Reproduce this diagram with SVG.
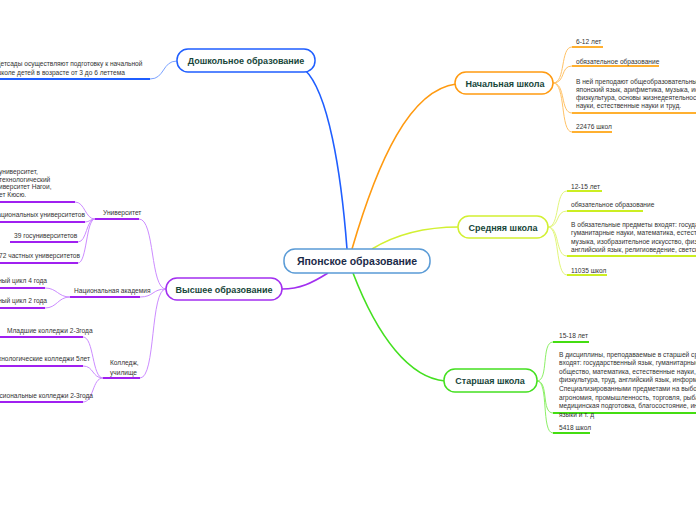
<svg xmlns="http://www.w3.org/2000/svg" width="696" height="520" viewBox="0 0 696 520">
<style>
.bg{fill:#ffffff}
.node{fill:#ffffff;stroke-width:1.5}
.ttl{font-family:"Liberation Sans",Arial,sans-serif;font-weight:bold;font-size:9px;fill:#17463a;text-anchor:middle}
.ctr{font-family:"Liberation Sans",Arial,sans-serif;font-weight:bold;font-size:10.5px;fill:#1b2a48;text-anchor:middle}
.lf{font-family:"Liberation Sans",Arial,sans-serif;font-size:6.6px;fill:#333333}
.end{text-anchor:end}
.c{fill:none}
.ul{fill:none;stroke-width:2}
.blue{stroke:#1f5eff}
.blueL{stroke:#7aa2ff;stroke-width:1}
.or{stroke:#ff9a10}
.orL{stroke:#ffc266;stroke-width:1}
.orU{stroke:#ffb030}
.yg{stroke:#d2f032}
.ygL{stroke:#e2f67a;stroke-width:1}
.ygU{stroke:#ccee22}
.gr{stroke:#44e020}
.grL{stroke:#8cf066;stroke-width:1}
.grU{stroke:#44dd11}
.pu{stroke:#a22ff0}
.puL{stroke:#cc8cff;stroke-width:1}
.puU{stroke:#a020f0}
</style>
<rect class="bg" x="0" y="0" width="696" height="520"/>
<g id="connectors">
  <!-- main branches -->
  <path class="c blue" stroke-width="1.6" d="M347,249 C341,170 328,92 305,70"/>
  <path class="c or" stroke-width="1.6" d="M352,249 C378,160 410,90 456,84"/>
  <path class="c yg" stroke-width="1.6" d="M372,249 C398,233 430,227 459,227"/>
  <path class="c gr" stroke-width="1.6" d="M353,273 C378,338 410,378 445,381"/>
  <path class="c pu" stroke-width="1.6" d="M328,273 C312,283 300,289 282,289"/>
  <!-- preschool -->
  <path class="c blueL" d="M177,61 C162,61 165,79 150,79"/>
  <path class="ul blue" d="M0,79 H150"/>
  <!-- primary -->
  <path class="c orL" d="M553,83 C566,83 560,47 572,47"/>
  <path class="c orL" d="M553,83 C566,83 560,66 572,66"/>
  <path class="c orL" d="M553,83 C566,83 560,113 572,113"/>
  <path class="c orL" d="M553,83 C566,83 560,132 572,132"/>
  <path class="ul orU" d="M572,47 H603"/>
  <path class="ul orU" d="M572,66 H659"/>
  <path class="ul orU" d="M572,113 H696"/>
  <path class="ul orU" d="M572,132 H612"/>
  <!-- middle -->
  <path class="c ygL" d="M548,227 C560,227 555,191 567,191"/>
  <path class="c ygL" d="M548,227 C560,227 555,211 567,211"/>
  <path class="c ygL" d="M548,227 C560,227 555,256 567,256"/>
  <path class="c ygL" d="M548,227 C560,227 555,275 567,275"/>
  <path class="ul ygU" d="M567,191 H602"/>
  <path class="ul ygU" d="M567,211 H643"/>
  <path class="ul ygU" d="M567,256 H696"/>
  <path class="ul ygU" d="M567,275 H607"/>
  <!-- high -->
  <path class="c grL" d="M537,381 C549,381 541,342 553,342"/>
  <path class="c grL" d="M537,381 C549,381 541,413 553,413"/>
  <path class="c grL" d="M537,381 C549,381 541,433 553,433"/>
  <path class="ul grU" d="M553,342 H589"/>
  <path class="ul grU" d="M553,413 H696"/>
  <path class="ul grU" d="M553,433 H590"/>
  <!-- higher -->
  <path class="c puL" d="M166,289 C150,289 155,219 139,219"/>
  <path class="c puL" d="M166,289 C152,289 154,297 140,297"/>
  <path class="c puL" d="M166,289 C150,289 156,378 140,378"/>
  <path class="ul puU" d="M95,219 H139"/>
  <path class="ul puU" d="M70,297 H140"/>
  <path class="ul puU" d="M103,378 H140"/>
  <!-- university children -->
  <path class="c puL" d="M95,219 C85,219 85,202 75,202"/>
  <path class="c puL" d="M95,219 C90,219 90,222 85,222"/>
  <path class="c puL" d="M95,219 C86,219 87,242 78,242"/>
  <path class="c puL" d="M95,219 C86,219 87,263 78,263"/>
  <path class="ul puU" d="M0,202 H75"/>
  <path class="ul puU" d="M0,222 H85"/>
  <path class="ul puU" d="M10,242 H78"/>
  <path class="ul puU" d="M0,263 H78"/>
  <!-- academy children -->
  <path class="c puL" d="M70,297 C58,297 57,288 45,288"/>
  <path class="c puL" d="M70,297 C58,297 57,308 45,308"/>
  <path class="ul puU" d="M0,288 H45"/>
  <path class="ul puU" d="M0,308 H45"/>
  <!-- college children -->
  <path class="c puL" d="M103,378 C92,378 94,337 83,337"/>
  <path class="c puL" d="M103,378 C92,378 94,366 83,366"/>
  <path class="c puL" d="M103,378 C92,378 94,402 83,402"/>
  <path class="ul puU" d="M0,337 H83"/>
  <path class="ul puU" d="M0,366 H83"/>
  <path class="ul puU" d="M0,402 H83"/>
</g>
<g id="center">
  <rect class="node" x="284" y="249" width="146" height="24" rx="11" stroke="#5a9bd6"/>
  <text class="ctr" x="357" y="265">Японское образование</text>
</g>
<g id="preschool">
  <rect class="node" x="177" y="49" width="138" height="23" rx="11" stroke="#1f5eff"/>
  <text class="ttl" x="246" y="64">Дошкольное образование</text>
</g>
<g id="preschool-1">
  <text class="lf" x="-4" y="65.5">Детсады осуществляют подготовку к начальной</text>
  <text class="lf" x="-4" y="74.5">школе детей в возрасте от 3 до 6 леттема</text>
</g>
<g id="primary">
  <rect class="node" x="455" y="72" width="98" height="22" rx="11" stroke="#ff9a10"/>
  <text class="ttl" x="505" y="86.5">Начальная школа</text>
</g>
<g id="primary-1"><text class="lf" x="576" y="43.5">6-12 лет</text></g>
<g id="primary-2"><text class="lf" x="576" y="64">обязательное образование</text></g>
<g id="primary-3">
  <text class="lf" x="576" y="83.5">В ней преподают общеобразовательные</text>
  <text class="lf" x="576" y="91.8">японский язык, арифметика, музыка, ис</text>
  <text class="lf" x="576" y="100.1">физкультура, основы жизнедеятельност</text>
  <text class="lf" x="576" y="108.4">науки, естественные науки и труд.</text>
</g>
<g id="primary-4"><text class="lf" x="576" y="128.5">22476 школ</text></g>
<g id="middle">
  <rect class="node" x="458" y="216" width="90" height="22" rx="11" stroke="#d2f032"/>
  <text class="ttl" x="503" y="230.5">Средняя школа</text>
</g>
<g id="middle-1"><text class="lf" x="571" y="188.5">12-15 лет</text></g>
<g id="middle-2"><text class="lf" x="571" y="206.5">обязательное образование</text></g>
<g id="middle-3">
  <text class="lf" x="571" y="226.5">В обязательные предметы входят: государ</text>
  <text class="lf" x="571" y="235">гуманитарные науки, математика, естест</text>
  <text class="lf" x="571" y="243.5">музыка, изобразительное искусство, физк</text>
  <text class="lf" x="571" y="252">английский язык, религиоведение, светск</text>
</g>
<g id="middle-4"><text class="lf" x="571" y="272.5">11035 школ</text></g>
<g id="high">
  <rect class="node" x="444" y="369" width="93" height="23" rx="11" stroke="#44e020"/>
  <text class="ttl" x="490" y="384">Старшая школа</text>
</g>
<g id="high-1"><text class="lf" x="559" y="337.5">15-18 лет</text></g>
<g id="high-2">
  <text class="lf" x="559" y="356.5">В дисциплины, преподаваемые в старшей сре</text>
  <text class="lf" x="559" y="365.1">входят: государственный язык, гуманитарные</text>
  <text class="lf" x="559" y="373.7">общество, математика, естественные науки,</text>
  <text class="lf" x="559" y="382.3">физкультура, труд, английский язык, информа</text>
  <text class="lf" x="559" y="390.9">Специализированными предметами на выбор</text>
  <text class="lf" x="559" y="399.5">агрономия, промышленность, торговля, рыба</text>
  <text class="lf" x="559" y="408.1">медицинская подготовка, благосостояние, ин</text>
  <text class="lf" x="559" y="416.7">языки и т. д</text>
</g>
<g id="high-3"><text class="lf" x="559" y="429.5">5418 школ</text></g>
<g id="higher">
  <rect class="node" x="166" y="278" width="116" height="22" rx="11" stroke="#a22ff0"/>
  <text class="ttl" x="224" y="292.5">Высшее образование</text>
</g>
<g id="university"><text class="lf" x="103" y="214.5">Университет</text></g>
<g id="university-1">
  <text class="lf" x="-1" y="174">университет,</text>
  <text class="lf" x="-1" y="181.5">технологический</text>
  <text class="lf" x="-1" y="189">иверситет Нагои,</text>
  <text class="lf" x="-1" y="196.5">ет Кюсю.</text>
</g>
<g id="university-2"><text class="lf end" x="85" y="216.5">национальных университетов</text></g>
<g id="university-3"><text class="lf" x="14" y="237.5">39 госуниверситетов</text></g>
<g id="university-4"><text class="lf end" x="80" y="257.5">472 частных университетов</text></g>
<g id="academy"><text class="lf" x="74" y="292.5">Национальная академия</text></g>
<g id="academy-1"><text class="lf end" x="47" y="282.5">ный цикл 4 года</text></g>
<g id="academy-2"><text class="lf end" x="47" y="302.5">ный цикл 2 года</text></g>
<g id="college">
  <text class="lf" x="110" y="364.5">Колледж,</text>
  <text class="lf" x="110" y="374.5">училище</text>
</g>
<g id="college-1"><text class="lf" x="7" y="332.5">Младшие колледжи 2-3года</text></g>
<g id="college-2"><text class="lf end" x="90" y="360.5">технологические колледжи 5лет</text></g>
<g id="college-3"><text class="lf end" x="93" y="397.5">профессиональные колледжи 2-3года</text></g>
</svg>
